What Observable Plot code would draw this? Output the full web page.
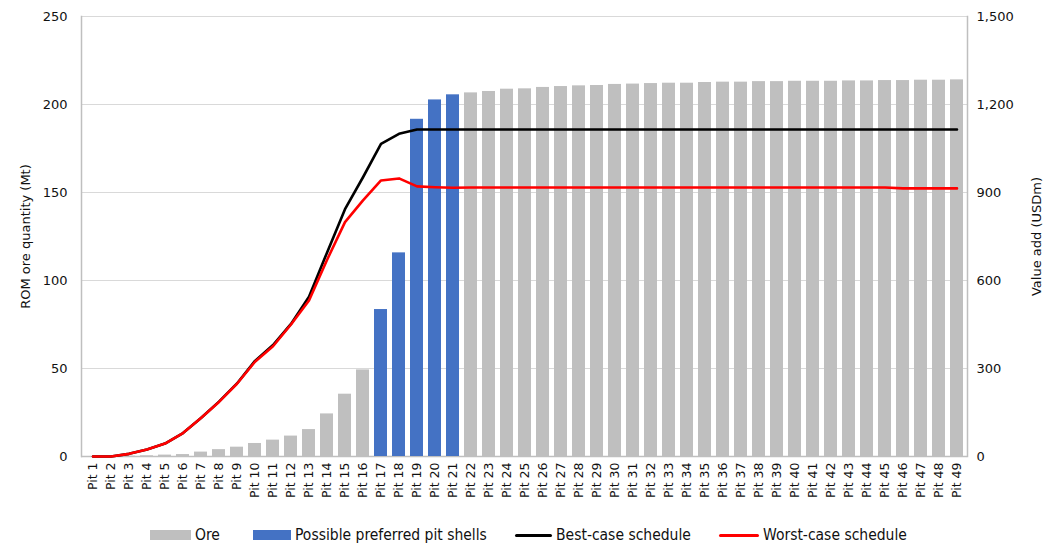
<!DOCTYPE html>
<html>
<head>
<meta charset="utf-8">
<script src="https://cdn.jsdelivr.net/npm/d3@7"></script>
<script src="https://cdn.jsdelivr.net/npm/@observablehq/plot@0.6"></script>
<style>
  html, body { margin: 0; padding: 0; background: #fff; }
  #chart { position: relative; width: 1046px; }
  .legend { position: relative; width: 1046px; height: 31px; font-family: "DejaVu Sans Condensed", "DejaVu Sans", sans-serif; font-stretch: condensed; font-size: 15.5px; color: #111; }
  .legend .item { position: absolute; top: 11px; display: flex; align-items: center; gap: 4px; white-space: nowrap; }
  .legend .sw { display: inline-block; }
</style>
</head>
<body>
<div id="chart"></div>
<script>
const pits = ["Pit 1","Pit 2","Pit 3","Pit 4","Pit 5","Pit 6","Pit 7","Pit 8","Pit 9","Pit 10",
  "Pit 11","Pit 12","Pit 13","Pit 14","Pit 15","Pit 16","Pit 17","Pit 18","Pit 19","Pit 20",
  "Pit 21","Pit 22","Pit 23","Pit 24","Pit 25","Pit 26","Pit 27","Pit 28","Pit 29","Pit 30",
  "Pit 31","Pit 32","Pit 33","Pit 34","Pit 35","Pit 36","Pit 37","Pit 38","Pit 39","Pit 40",
  "Pit 41","Pit 42","Pit 43","Pit 44","Pit 45","Pit 46","Pit 47","Pit 48","Pit 49"];

// ROM ore quantity (Mt)
const ore = [0, 0.1, 0.2, 0.4, 0.8, 1.1, 2.5, 3.9, 5.3, 7.4,
  9.3, 11.6, 15.3, 24.2, 35.4, 49.2, 83.5, 115.7, 191.6, 202.6,
  205.5, 206.6, 207.4, 208.7, 208.9, 209.7, 210.2, 210.6, 210.8, 211.4,
  211.6, 211.9, 212.1, 212.1, 212.5, 212.7, 212.7, 213.0, 213.0, 213.2,
  213.2, 213.2, 213.4, 213.4, 213.6, 213.6, 213.8, 213.8, 214.0];

const preferred = ["Pit 17","Pit 18","Pit 19","Pit 20","Pit 21"];

// Value add (USDm)
const bestCase = [0, 0, 9, 24, 44, 80, 131, 187, 249, 326,
  380, 452, 545, 695, 843, 952, 1066, 1100, 1115, 1115,
  1115, 1115, 1115, 1115, 1115, 1115, 1115, 1115, 1115, 1115,
  1115, 1115, 1115, 1115, 1115, 1115, 1115, 1115, 1115, 1115,
  1115, 1115, 1115, 1115, 1115, 1115, 1115, 1115, 1115];
const worstCase = [0, 0, 9, 24, 44, 80, 131, 186, 248, 323,
  376, 450, 532, 670, 799, 873, 941, 948, 921, 918,
  916, 917, 917, 917, 917, 917, 917, 917, 917, 917,
  917, 917, 917, 917, 917, 917, 917, 917, 917, 917,
  917, 917, 917, 917, 917, 914, 914, 914, 914];

const leftTicks = [0, 50, 100, 150, 200, 250];
const rightTicks = [0, 300, 600, 900, 1200, 1500];
const ratio = 1500 / 250;

const bars = pits.map((p, i) => ({pit: p, ore: ore[i], group: preferred.includes(p) ? "Possible preferred pit shells" : "Ore"}));
const lines = [
  ...pits.map((p, i) => ({pit: p, v: bestCase[i], s: "Best-case schedule"})),
  ...pits.map((p, i) => ({pit: p, v: worstCase[i], s: "Worst-case schedule"}))
];

const chart = Plot.plot({
  width: 1046,
  height: 515,
  marginLeft: 81,
  marginRight: 79,
  marginTop: 16,
  marginBottom: 59,
  style: {fontFamily: "DejaVu Sans, sans-serif", fontSize: "13px", color: "#111", background: "#fff"},
  x: {domain: pits, paddingInner: 0.3, paddingOuter: 0.12, label: null},
  y: {domain: [0, 250], label: null},
  color: {domain: ["Ore", "Possible preferred pit shells", "Best-case schedule", "Worst-case schedule"],
          range: ["#bfbfbf", "#4472c4", "#000000", "#ff0000"]},
  marks: [
    Plot.gridY(leftTicks, {stroke: "#d9d9d9", strokeOpacity: 1}),
    Plot.ruleY([0], {stroke: "#bfbfbf", strokeWidth: 1.5}),
    Plot.frame({anchor: "left", stroke: "#bfbfbf", strokeWidth: 1.5}),
    Plot.frame({anchor: "right", stroke: "#bfbfbf", strokeWidth: 1.5}),
    Plot.barY(bars, {x: "pit", y: "ore", fill: "group"}),
    Plot.line(lines, {x: "pit", y: d => d.v / ratio, z: "s", stroke: "s", strokeWidth: 2.6, curve: "linear"}),
    Plot.axisX({tickRotate: -90, tickSize: 0, tickPadding: 6, fontSize: 12.5, label: null}),
    Plot.axisY(leftTicks, {anchor: "left", tickSize: 0, tickPadding: 14, label: "ROM ore quantity (Mt)",
      labelAnchor: "center", labelOffset: 61, labelArrow: "none", fontSize: 13}),
    Plot.axisY(rightTicks.map(v => v / ratio), {anchor: "right", tickSize: 0, tickPadding: 9,
      tickFormat: d => d3.format(",")(Math.round(d * ratio)), label: "Value add (USDm)",
      labelAnchor: "center", labelOffset: 73, labelArrow: "none", fontSize: 13})
  ]
});
document.getElementById("chart").appendChild(chart);

// Legend
const legendItems = [
  {name: "Ore", color: "#bfbfbf", type: "rect", left: 150, w: 41},
  {name: "Possible preferred pit shells", color: "#4472c4", type: "rect", left: 253, w: 38},
  {name: "Best-case schedule", color: "#000000", type: "line", left: 515, w: 37},
  {name: "Worst-case schedule", color: "#ff0000", type: "line", left: 719, w: 40}
];
const legend = document.createElement("div");
legend.className = "legend";
for (const it of legendItems) {
  const item = document.createElement("div");
  item.className = "item";
  item.style.left = it.left + "px";
  const sw = document.createElement("span");
  sw.className = "sw";
  sw.style.width = it.w + "px";
  sw.style.height = it.type === "rect" ? "10px" : "3px";
  sw.style.background = it.color;
  if (it.type === "line") sw.style.borderRadius = "2px";
  const label = document.createElement("span");
  label.textContent = it.name;
  item.appendChild(sw);
  item.appendChild(label);
  legend.appendChild(item);
}
document.getElementById("chart").appendChild(legend);
</script>
</body>
</html>
